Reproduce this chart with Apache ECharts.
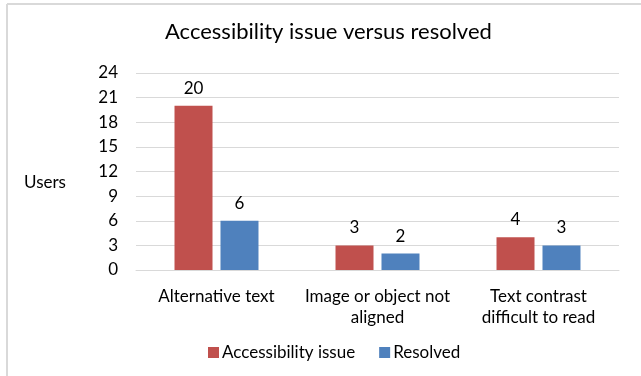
<!DOCTYPE html>
<html>
<head>
<meta charset="utf-8">
<script src="https://cdn.jsdelivr.net/npm/echarts@6/dist/echarts.min.js"></script>
<style>
  html, body { margin: 0; padding: 0; background: #fff; }
  #chart { width: 641px; height: 376px; }
</style>
</head>
<body>
<div id="chart"></div>
<script>
// chart values
const categories = ['Alternative text', 'Image or object not\naligned', 'Text contrast\ndifficult to read']
const issueValues = [20, 3, 4]
const resolvedValues = [6, 2, 3]
const seriesNames = ['Accessibility issue', 'Resolved']
const yTicks = { min: 0, max: 24, step: 3 }

const font = 'Lato'
const chart = echarts.init(document.getElementById('chart'))

chart.setOption({
  animation: false,
  title: {
    text: 'Accessibility issue versus resolved',
    left: 160,
    top: 16,
    textStyle: { fontFamily: font, fontSize: 22, fontWeight: 'normal', color: '#000' }
  },
  legend: {
    data: seriesNames,
    bottom: 10,
    left: 203,
    itemWidth: 11,
    itemHeight: 11,
    itemGap: 24,
    icon: 'rect',
    textStyle: { fontFamily: font, fontSize: 17, color: '#000', padding: [0, 0, 0, -2] }
  },
  grid: { left: 136, right: 22, top: 73, bottom: 106 },
  xAxis: {
    type: 'category',
    data: categories,
    axisTick: { show: false },
    axisLine: { lineStyle: { color: '#d9d9d9', width: 1 } },
    axisLabel: { interval: 0, fontFamily: font, fontSize: 17, color: '#000', margin: 16, lineHeight: 21 }
  },
  yAxis: {
    type: 'value',
    min: yTicks.min,
    max: yTicks.max,
    interval: yTicks.step,
    axisLine: { show: false },
    axisTick: { show: false },
    axisLabel: { fontFamily: font, fontSize: 17, color: '#000', margin: 18 },
    splitLine: { lineStyle: { color: '#d9d9d9', width: 1 } }
  },
  series: [
    {
      name: seriesNames[0],
      type: 'bar',
      data: issueValues,
      barWidth: 38,
      barGap: '21%',
      itemStyle: { color: '#c0504d' },
      label: { show: true, position: 'top', distance: 9, fontFamily: font, fontSize: 17, color: '#000' }
    },
    {
      name: seriesNames[1],
      type: 'bar',
      data: resolvedValues,
      barWidth: 38,
      itemStyle: { color: '#4f81bd' },
      label: { show: true, position: 'top', distance: 9, fontFamily: font, fontSize: 17, color: '#000' }
    }
  ],
  graphic: [
    { type: 'line', shape: { x1: 7, y1: 4, x2: 641, y2: 4 }, style: { stroke: '#d9d9d9', lineWidth: 2 } },
    { type: 'line', shape: { x1: 7, y1: 4, x2: 7, y2: 376 }, style: { stroke: '#d9d9d9', lineWidth: 2 } },
    {
      type: 'text', x: 45, y: 183,
      style: { text: 'Users', fontFamily: font, fontSize: 17, fill: '#000', align: 'center', verticalAlign: 'middle' }
    }
  ]
})
</script>
</body>
</html>
